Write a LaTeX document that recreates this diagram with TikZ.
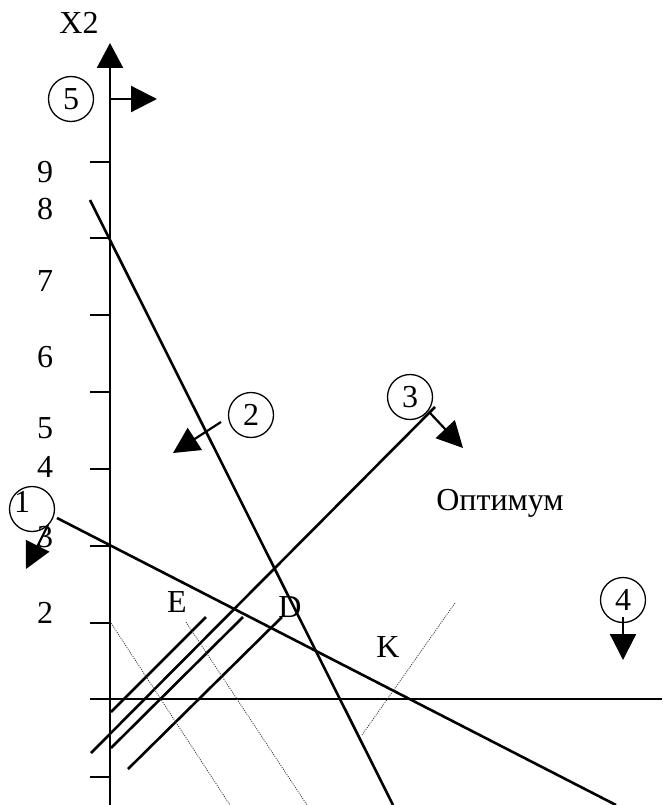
\documentclass[tikz,border=0pt]{standalone}
\usepackage{fontspec}
\setmainfont{Liberation Serif}
\usetikzlibrary{arrows.meta}
\begin{document}
\begin{tikzpicture}[x=1pt,y=-1pt,
  every node/.style={font=\fontsize{32}{34}\selectfont, inner sep=0pt},
  num/.style={circle, draw, line width=1.3pt, minimum size=45pt},
  thick line/.style={line width=2.6pt},
  axisline/.style={line width=2.4pt},
  tickmark/.style={line width=2pt},
  dotline/.style={line width=0.8pt, dash pattern=on 1pt off 1.2pt, black!80},
  dirarrow/.style={line width=2.2pt, -{Triangle[length=26pt,width=26pt]}}]
\useasboundingbox (0,0) rectangle (662,805);
% axes
\coordinate (ybot) at (110,805);
\coordinate (ytop) at (110,43);
\draw[axisline, -{Triangle[length=25pt,width=26pt]}] (ybot) -- (ytop);
\coordinate (xl) at (90,699);
\coordinate (xr) at (662,699);
\draw[axisline] (xl) -- (xr);
\foreach \yy in {162,238,315,392,469,546,623,777}
  \draw[tickmark] (90,\yy) -- (110,\yy);
% axis labels
\node (lx2) at (79,23) {X2};
\node (l9) at (45,172) {9};
\node (l8) at (45,209) {8};
\node (l7) at (45,281) {7};
\node (l6) at (45,357) {6};
\node (l5) at (45,428) {5};
\node (l4) at (45,467) {4};
\node (l3) at (45,537) {3};
\node (l2) at (45,613) {2};
% constraint lines
\coordinate (a1) at (57,518);
\coordinate (b1) at (616,805);
\draw[thick line] (a1) -- (b1);
\coordinate (a2) at (90,200);
\coordinate (b2) at (393,805);
\draw[thick line] (a2) -- (b2);
\coordinate (a3) at (91,753);
\coordinate (b3) at (435,407);
\draw[thick line] (a3) -- (b3);
% objective level lines
\coordinate (pa1) at (111,712);
\coordinate (pa2) at (206,617);
\draw[thick line] (pa1) -- (pa2);
\coordinate (pc1) at (111,748);
\coordinate (pc2) at (243,617);
\draw[thick line] (pc1) -- (pc2);
\coordinate (pd1) at (128,769);
\coordinate (pd2) at (282,617);
\draw[thick line] (pd1) -- (pd2);
% dotted lines
\coordinate (d1a) at (111,623);
\coordinate (d1b) at (230,805);
\draw[dotline] (d1a) -- (d1b);
\coordinate (d2a) at (186,622);
\coordinate (d2b) at (307,805);
\draw[dotline] (d2a) -- (d2b);
\coordinate (d3a) at (455,603);
\coordinate (d3b) at (362,735);
\draw[dotline] (d3a) -- (d3b);
% numbered circles
\node[num] (c1) at (32,509) {};
\node (t1) at (22,502) {1};
\node[num] (c2) at (251,415) {2};
\node[num] (c3) at (410,397) {3};
\node[num] (c4) at (623,600) {4};
\node[num] (c5) at (71,99) {5};
% direction arrows
\coordinate (r1a) at (48,525);
\coordinate (r1b) at (26,569);
\draw[dirarrow] (r1a) -- (r1b);
\coordinate (r2a) at (221,422);
\coordinate (r2b) at (173,453);
\draw[dirarrow] (r2a) -- (r2b);
\coordinate (r3a) at (430,413);
\coordinate (r3b) at (463,448);
\draw[dirarrow] (r3a) -- (r3b);
\coordinate (r4a) at (623,617);
\coordinate (r4b) at (623,660);
\draw[dirarrow] (r4a) -- (r4b);
\coordinate (r5a) at (110,99);
\coordinate (r5b) at (157,99);
\draw[dirarrow] (r5a) -- (r5b);
% point labels
\node (lE) at (177,602) {E};
\node (lD) at (290,607) {D};
\node (lK) at (388,647) {K};
\node (lopt) at (500,503) {Оптимум};
\end{tikzpicture}
\end{document}
